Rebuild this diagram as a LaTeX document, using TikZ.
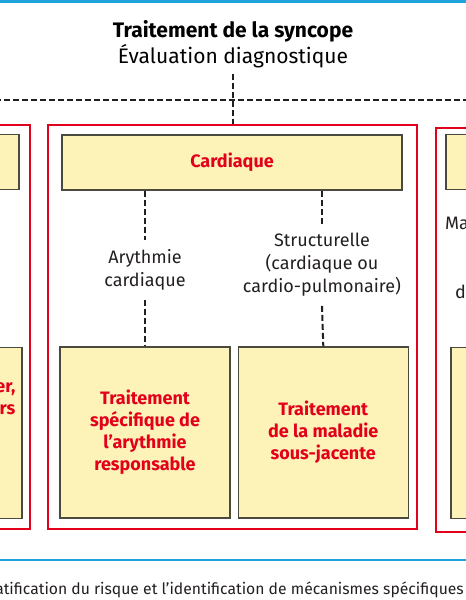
\documentclass[tikz,border=0pt]{standalone}
\usepackage{fontspec}
\setmainfont{Fira Sans}
\definecolor{SynRed}  {HTML}{E2001A}
\definecolor{SynPale} {HTML}{FDF3B8}
\definecolor{SynEdge} {HTML}{4B4A40}
\definecolor{SynBlue} {HTML}{1EA3DD}
\definecolor{SynInk}  {HTML}{231F20}
\usetikzlibrary{positioning,calc}

\begin{document}
\begin{tikzpicture}[x=1pt,y=-1pt,
  frame/.style={draw=SynRed,line width=1.6pt,inner sep=0pt,
    minimum width=369pt,minimum height=404pt},
  headbox/.style={draw=SynEdge,fill=SynPale,line width=1.3pt,
    minimum width=340pt,minimum height=55pt,
    font=\fontsize{18}{22}\selectfont\bfseries\color{SynRed}},
  treat/.style={draw=SynEdge,fill=SynPale,line width=1.3pt,
    minimum width=170pt,minimum height=171pt,align=center,
    font=\fontsize{18}{22}\selectfont\bfseries\color{SynRed}},
  cause/.style={font=\fontsize{18}{23}\selectfont\color{SynInk},
    align=center,inner sep=9pt},
  link/.style={SynInk,line width=2pt,dash pattern=on 6pt off 3pt},
  bluerule/.style={SynBlue,line width=2.5pt}]
  \useasboundingbox (0,0) rectangle (466,600);
  \clip (0,0) rectangle (466,600);
  \draw[bluerule] (0,1.5) -- (466,1.5);
  \node[font=\fontsize{21}{25}\selectfont\bfseries](title) at (233,31)
    {Traitement de la syncope};
  \node[font=\fontsize{21}{25}\selectfont](eval) at (233,56)
    {Évaluation diagnostique};
  \coordinate (fanL) at (-5,100);
  \coordinate (fanR) at (471,100);
  \draw[link](fanL)--(fanR);
  % Cardiaque
  \node[frame](cardF) at (232.5,327) {};
  \node[headbox](card) at (232,162.5) {Cardiaque};
  \node[treat](arr) at (145,432.5)
    {Traitement\\spécifique de\\l’arythmie\\responsable};
  \node[treat,right=7pt of arr](mal)
    {Traitement\\de la maladie\\sous-jacente};
  \node[cause](rhy) at (145,270) {Arythmie\\cardiaque};
  \node[cause](str) at (322,265)
    {Structurelle\\(cardiaque ou\\cardio-pulmonaire)};
  \draw[link](eval.south)++(0,3)--(eval.south |- cardF.north);
  \draw[link](card.south -| rhy)--(rhy.north);
  \draw[link](rhy.south)--(arr.north);
  \draw[link](card.south -| str)--(str.north);
  \draw[link](str.south)--(mal.north);
  % Left column, cut off
  \node[frame](leftF) at (-154.5,327) {};
  \node[headbox](leftH) at (-151,162) {};
  \node[treat](leftT) at (-63,433) {};
  \node[treat,draw=none,fill=none,minimum width=0pt,minimum height=0pt,
    inner sep=0pt,align=right,anchor=east](leftTxt) at (16,398.5)
    {er,\\rs};
  % Right column, cut off
  \node[frame](rightF) at (620.5,330) {};
  \node[headbox](rightH) at (616,162) {};
  \node[treat](rightT) at (536,433) {};
  \node[cause,inner sep=0pt,anchor=west](rightA) at (445,223) {Ma};
  \node[cause,inner sep=0pt,anchor=west](rightB) at (455,292) {du};
  % Note
  \draw[bluerule] (0,560) -- (466,560);
  \node[font=\fontsize{15.7}{19}\selectfont\color{SynInk},anchor=east,
    inner sep=0pt](note) at (464,590)
    {atification du risque et l’identification de mécanismes spécifiques};
\end{tikzpicture}
\end{document}
